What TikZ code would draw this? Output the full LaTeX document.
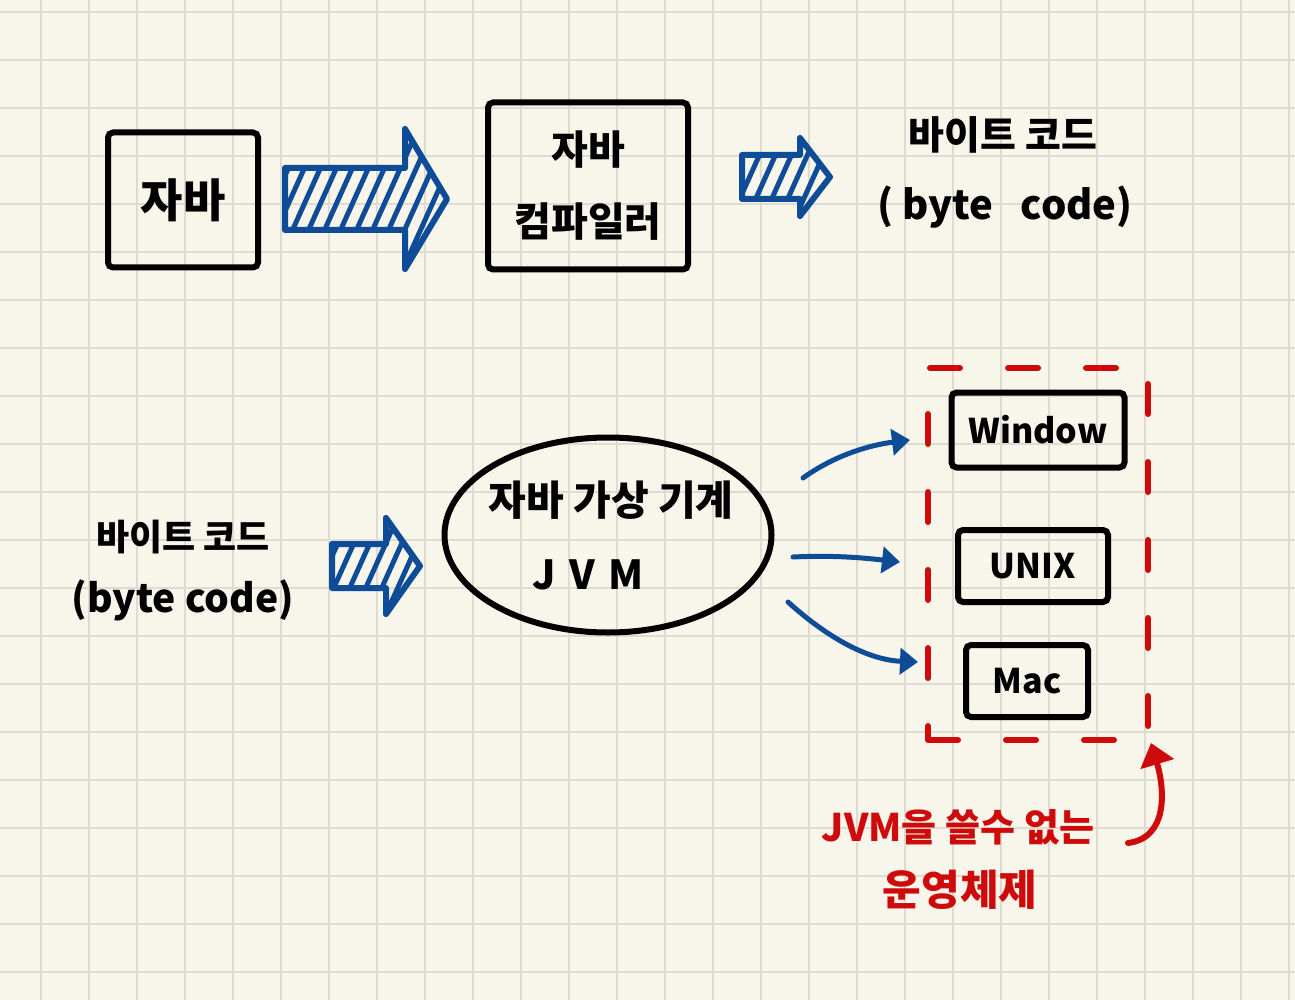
\documentclass[tikz,border=0pt]{standalone}
\usepackage{fontspec}
\setmainfont{Noto Sans CJK KR}
\usetikzlibrary{arrows.meta,shapes.geometric}
\definecolor{paper}{HTML}{F8F5EA}
\definecolor{gridc}{HTML}{DEDCD2}
\definecolor{penblue}{HTML}{0E4C97}
\definecolor{penred}{HTML}{CF0A0A}
\tikzset{
  blk/.style={draw=black, line width=6pt, rounded corners=5pt, inner sep=0pt, font=\fontsize{40}{72}\selectfont\bfseries, align=center},
  ostxt/.style={font=\fontsize{34}{40}\selectfont\bfseries},
  lbl/.style={inner sep=0pt, font=\fontsize{36}{44}\selectfont\bfseries},
  redlbl/.style={inner sep=0pt, text=penred, font=\fontsize{38}{44}\selectfont\bfseries},
  hatchline/.style={draw=penblue, line width=5pt},
  hatchedge/.style={draw=penblue, line width=6pt, line join=round},
  bluearr/.style={draw=penblue, line width=5pt, line cap=round, -{Triangle[length=18pt,width=26pt]}},
  redarr/.style={draw=penred, line width=6pt, line cap=round, -{Triangle[length=22pt,width=34pt]}},
  reddash/.style={draw=penred, line width=6pt, line cap=round, dash pattern=on 30pt off 48pt},
}
\newcommand\hatcharrow[6]{%
  \begin{scope}
    \clip ({#1},{#4-#5}) -- ({#2},{#4-#5}) -- ({#2},{#4-#6}) -- ({#3},{#4}) -- ({#2},{#4+#6}) -- ({#2},{#4+#5}) -- ({#1},{#4+#5}) -- cycle;
    \foreach \k in {0,...,22} {
      \draw[hatchline] ({#1-90+\k*16},{#4+#6}) -- ++({2*#6*0.45},{-2*#6});
    }
  \end{scope}
  \draw[hatchedge] ({#1},{#4-#5}) -- ({#2},{#4-#5}) -- ({#2},{#4-#6}) -- ({#3},{#4}) -- ({#2},{#4+#6}) -- ({#2},{#4+#5}) -- ({#1},{#4+#5}) -- cycle;
}
\begin{document}
\begin{tikzpicture}[x=1pt,y=-1pt]
  \useasboundingbox (0,0) rectangle (1295,1000);
  \fill[paper] (0,0) rectangle (1295,1000);
  \foreach \gx in {41,89,...,1295} \draw[gridc, line width=1.5pt] (\gx,0) -- (\gx,1000);
  \foreach \gy in {12,60,...,1000} \draw[gridc, line width=1.5pt] (0,\gy) -- (1295,\gy);

  % top row
  \node[blk, minimum width=150pt, minimum height=135pt, font=\fontsize{46}{52}\selectfont\bfseries] (java) at (183,200) {자바};
  \hatcharrow{285}{405}{447}{199}{31}{70}
  \node[blk, minimum width=200pt, minimum height=167pt] (compiler) at (588,186) {자바\\컴파일러};
  \hatcharrow{742}{800}{830}{177}{22}{39}
  \node[lbl, font=\fontsize{39}{44}\selectfont\bfseries] (bc1) at (1003,135) {바이트 코드};
  \node[lbl, font=\fontsize{40}{44}\selectfont\bfseries] (bc1b) at (1005,207) {( byte~~ code)};

  % bottom row
  \node[lbl] (bc2) at (183,537) {바이트 코드};
  \node[lbl, font=\fontsize{39}{44}\selectfont\bfseries] (bc2b) at (183,600) {(byte code)};
  \hatcharrow{332}{386}{420}{566}{22}{48}
  \node[draw=black, line width=6pt, ellipse, minimum width=327pt, minimum height=195pt, inner sep=0pt] (jvm) at (608,535) {};
  \node[lbl, font=\fontsize{41}{44}\selectfont\bfseries] (jvmt1) at (611,500) {자바 가상 기계};
  \node[lbl, font=\fontsize{40}{44}\selectfont\bfseries] (jvmt2) at (588,575) {J\,\,V\,\,M};

  % OS boxes
  \node[blk, minimum width=173pt, minimum height=75pt, ostxt] (win) at (1038,430) {Window};
  \node[blk, minimum width=150pt, minimum height=72pt, ostxt] (unix) at (1033,566) {UNIX};
  \node[blk, minimum width=122pt, minimum height=72pt, ostxt] (mac) at (1027,681) {Mac};
  \node[reddash, minimum width=220pt, minimum height=372pt, inner sep=0pt] (grp) at (1038,554) {};

  % connectors from JVM
  \coordinate (s1) at (803,478);
  \coordinate (e1) at (910,440);
  \coordinate (s2) at (793,557);
  \coordinate (e2) at (900,562);
  \coordinate (s3) at (788,602);
  \coordinate (e3) at (918,662);
  \draw[bluearr] (s1) .. controls (835,455) and (870,445) .. (e1);
  \draw[bluearr] (s2) .. controls (835,555) and (865,558) .. (e2);
  \draw[bluearr] (s3) .. controls (830,640) and (870,660) .. (e3);

  % red note
  \node[redlbl] (note1) at (958,827) {JVM을 쓸수 없는};
  \node[redlbl, font=\fontsize{42}{48}\selectfont\bfseries] (note2) at (960,890) {운영체제};
  \coordinate (rs) at (1128,843);
  \draw[redarr] (rs) .. controls (1168,838) and (1165,790) .. (grp.south east);
\end{tikzpicture}
\end{document}
